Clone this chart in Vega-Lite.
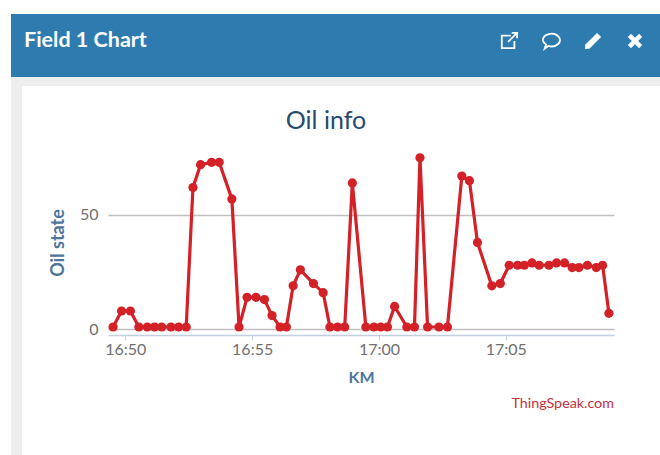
{
"$schema":"https://vega.github.io/schema/vega-lite/v6.json",
"background":"white",
"padding":{"left":11,"top":14,"right":0,"bottom":0},
"config":{"view":{"stroke":null},"font":"Lato"},
"datasets":{
"oil":[
{"t":"2020-01-01T16:49:31","v":1},{"t":"2020-01-01T16:49:51","v":8},{"t":"2020-01-01T16:50:12","v":8},{"t":"2020-01-01T16:50:32","v":1},{"t":"2020-01-01T16:50:52","v":1},{"t":"2020-01-01T16:51:09","v":1},{"t":"2020-01-01T16:51:26","v":1},{"t":"2020-01-01T16:51:48","v":1},{"t":"2020-01-01T16:52:06","v":1},{"t":"2020-01-01T16:52:24","v":1},{"t":"2020-01-01T16:52:40","v":62},{"t":"2020-01-01T16:52:58","v":72},{"t":"2020-01-01T16:53:24","v":73},{"t":"2020-01-01T16:53:42","v":73},{"t":"2020-01-01T16:54:12","v":57},{"t":"2020-01-01T16:54:29","v":1},{"t":"2020-01-01T16:54:48","v":14},{"t":"2020-01-01T16:55:09","v":14},{"t":"2020-01-01T16:55:29","v":13},{"t":"2020-01-01T16:55:47","v":6},{"t":"2020-01-01T16:56:06","v":1},{"t":"2020-01-01T16:56:21","v":1},{"t":"2020-01-01T16:56:37","v":19},{"t":"2020-01-01T16:56:54","v":26},{"t":"2020-01-01T16:57:25","v":20},{"t":"2020-01-01T16:57:48","v":16},{"t":"2020-01-01T16:58:04","v":1},{"t":"2020-01-01T16:58:22","v":1},{"t":"2020-01-01T16:58:39","v":1},{"t":"2020-01-01T16:58:57","v":64},{"t":"2020-01-01T16:59:29","v":1},{"t":"2020-01-01T16:59:48","v":1},{"t":"2020-01-01T17:00:04","v":1},{"t":"2020-01-01T17:00:20","v":1},{"t":"2020-01-01T17:00:37","v":10},{"t":"2020-01-01T17:01:06","v":1},{"t":"2020-01-01T17:01:24","v":1},{"t":"2020-01-01T17:01:37","v":75},{"t":"2020-01-01T17:01:55","v":1},{"t":"2020-01-01T17:02:22","v":1},{"t":"2020-01-01T17:02:42","v":1},{"t":"2020-01-01T17:03:16","v":67},{"t":"2020-01-01T17:03:34","v":65},{"t":"2020-01-01T17:03:53","v":38},{"t":"2020-01-01T17:04:27","v":19},{"t":"2020-01-01T17:04:47","v":20},{"t":"2020-01-01T17:05:08","v":28},{"t":"2020-01-01T17:05:28","v":28},{"t":"2020-01-01T17:05:44","v":28},{"t":"2020-01-01T17:06:02","v":29},{"t":"2020-01-01T17:06:19","v":28},{"t":"2020-01-01T17:06:42","v":28},{"t":"2020-01-01T17:07:00","v":29},{"t":"2020-01-01T17:07:19","v":29},{"t":"2020-01-01T17:07:37","v":27},{"t":"2020-01-01T17:07:53","v":27},{"t":"2020-01-01T17:08:13","v":28},{"t":"2020-01-01T17:08:34","v":27},{"t":"2020-01-01T17:08:49","v":28},{"t":"2020-01-01T17:09:04","v":7}
],
"icons":[{"icon":"open"},{"icon":"comment"},{"icon":"edit"},{"icon":"close"}]
},
"vconcat":[
 {"width":649,"height":63,"view":{"fill":"#2e7bb0","stroke":null},
  "title":{"text":"Field 1 Chart","anchor":"start","frame":"group","orient":"top","offset":-37,"dx":13,"fontSize":21.5,"fontWeight":"bold","color":"white","font":"Lato"},
  "data":{"name":"icons"},
  "layer":[
   {"transform":[{"filter":"datum.icon==='open'||datum.icon==='comment'"}],
    "mark":{"type":"point","filled":false,"stroke":"white","strokeWidth":1.8,"size":324,"opacity":1}},
   {"transform":[{"filter":"datum.icon==='edit'||datum.icon==='close'"}],
    "mark":{"type":"point","filled":true,"fill":"white","size":324,"opacity":1}}
  ],
  "encoding":{
   "x":{"field":"icon","type":"nominal","axis":null,"sort":null,"scale":{"type":"point","domain":["open","comment","edit","close"],"range":[498,624],"padding":0}},
   "y":{"field":"icon","type":"nominal","axis":null,"scale":{"type":"point","range":[27,27],"padding":0}},
   "shape":{"field":"icon","type":"nominal","legend":null,"scale":{"domain":["open","comment","edit","close"],"range":[
     "M0.2,-0.6 H-0.8 V0.8 H0.6 V0 M-0.1,0.1 L0.9,-0.9 M0.3,-0.9 H0.9 V-0.3",
     "M-0.9,-0.1 A0.95,0.7 0 1 1 -0.3,0.55 L-0.7,0.85 L-0.55,0.4 A0.95,0.7 0 0 1 -0.9,-0.1 Z",
     "M0.45,-0.9 L0.9,-0.45 L-0.4,0.85 L-0.9,0.9 L-0.85,0.4 Z",
     "M-0.8,-0.45 L-0.45,-0.8 L0,-0.35 L0.45,-0.8 L0.8,-0.45 L0.35,0 L0.8,0.45 L0.45,0.8 L0,0.35 L-0.45,0.8 L-0.8,0.45 L-0.35,0 Z"]}}
  }},
 {"width":649,"height":9,"view":{"fill":"#eeeeee","stroke":null},"data":{"values":[]},"mark":"rect","encoding":{}},
 {"hconcat":[
   {"width":11,"height":369,"view":{"fill":"#eeeeee","stroke":null},"data":{"values":[]},"mark":"rect","encoding":{}},
   {"vconcat":[
     {"width":506,"height":64,"data":{"values":[]},"mark":"rect","encoding":{}},
     {"width":506,"height":185,
      "title":{"text":"Oil info","anchor":"middle","frame":"group","dx":-35,"offset":16,"fontSize":25,"fontWeight":"normal","color":"#274b6d","font":"Lato"},
      "data":{"name":"oil"},
      "encoding":{
       "x":{"field":"t","type":"temporal","title":"KM","scale":{"domain":["2020-01-01T16:49:19","2020-01-01T17:09:16"]},
        "axis":{"values":["2020-01-01T16:50:00","2020-01-01T16:55:00","2020-01-01T17:00:00","2020-01-01T17:05:00"],"format":"%H:%M","grid":false,"domainColor":"#c0d0e0","domainWidth":1.5,"tickColor":"#c0d0e0","tickSize":5,"labelColor":"#707070","labelFontSize":16,"labelPadding":1,"labelFont":"Lato","titleColor":"#4d759e","titleFontSize":16,"titleFontWeight":"bold","titlePadding":12,"titleFont":"Lato"}},
       "y":{"field":"v","type":"quantitative","title":"Oil state","scale":{"domain":[-2.5,78.4],"nice":false,"zero":false},
        "axis":{"values":[0,50],"grid":true,"gridColor":"#c0c0c0","gridWidth":1.5,"domain":false,"ticks":false,"labelColor":"#707070","labelFontSize":16,"labelPadding":10,"labelFont":"Lato","titleColor":"#4d759e","titleFontSize":18,"titleFontWeight":"bold","titlePadding":12,"titleFont":"Lato"}}
      },
      "layer":[
       {"mark":{"type":"line","color":"#d42027","strokeWidth":3.2}},
       {"mark":{"type":"point","filled":true,"color":"#d42027","size":85,"opacity":1}}
      ]},
     {"width":506,"height":120,
      "title":{"text":"ThingSpeak.com","anchor":"end","frame":"group","orient":"top","offset":-76,"fontSize":14.3,"fontWeight":"normal","color":"#c8303c","font":"Lato"},
      "data":{"values":[]},"mark":"rect","encoding":{}}
    ],"spacing":0,"bounds":"flush"}
  ],"spacing":86,"bounds":"flush"}
],"spacing":0,"bounds":"flush"}
